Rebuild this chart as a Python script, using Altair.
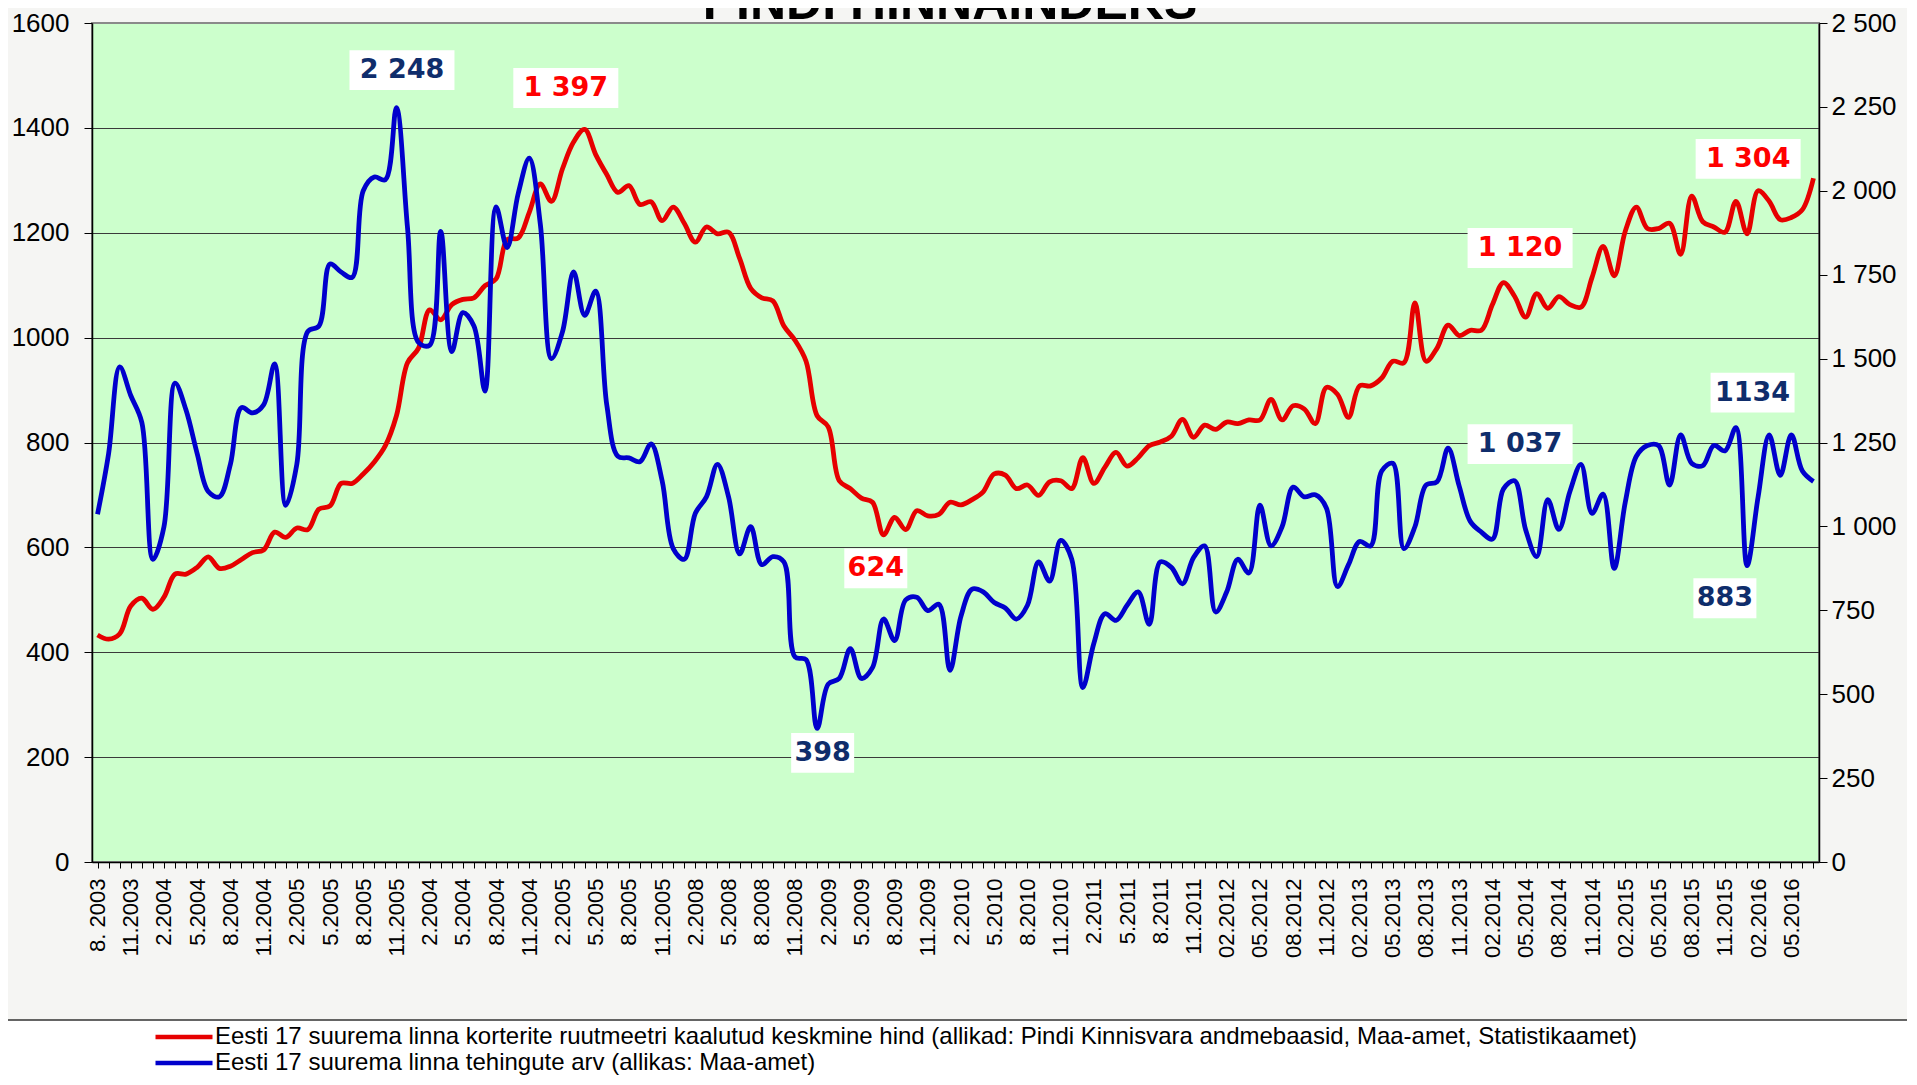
import json
import altair as alt
import pandas as pd

# ---------------- data ----------------
x_labels = [
    "8. 2003", "11.2003", "2.2004", "5.2004", "8.2004", "11.2004", "2.2005", "5.2005",
    "8.2005", "11.2005", "2.2004", "5.2004", "8.2004", "11.2004", "2.2005", "5.2005",
    "8.2005", "11.2005", "2.2008", "5.2008", "8.2008", "11.2008", "2.2009", "5.2009",
    "8.2009", "11.2009", "2.2010", "5.2010", "8.2010", "11.2010", "2.2011", "5.2011",
    "8.2011", "11.2011", "02.2012", "05.2012", "08.2012", "11.2012", "02.2013", "05.2013",
    "08.2013", "11.2013", "02.2014", "05.2014", "08.2014", "11.2014", "02.2015", "05.2015",
    "08.2015", "11.2015", "02.2016", "05.2016",
]

# red series: weighted average price per m2 (left axis)
price = [
    433, 425, 435, 488, 503, 482, 505, 549, 549, 562, 582, 560, 564, 577, 590, 595,
    629, 619, 637, 634, 673, 679, 722, 722, 740, 763, 794, 851, 952, 980, 1053, 1034,
    1063, 1073, 1076, 1099, 1112, 1187, 1190, 1239, 1293, 1260, 1322, 1373, 1397, 1349, 1311, 1277,
    1290, 1254, 1259, 1223, 1249, 1218, 1182, 1211, 1198, 1201, 1151, 1094, 1076, 1070, 1022, 995,
    955, 851, 830, 727, 712, 694, 686, 624, 657, 634, 670, 660, 663, 686, 681, 691,
    706, 740, 738, 712, 719, 699, 725, 727, 712, 771, 722, 753, 781, 755, 771, 794,
    801, 812, 844, 810, 833, 825, 839, 836, 843, 843, 882, 843, 870, 864, 836, 905,
    892, 848, 908, 908, 923, 955, 952, 1066, 955, 980, 1024, 1004, 1014, 1014, 1063, 1105,
    1079, 1039, 1084, 1056, 1078, 1063, 1058, 1115, 1174, 1118, 1203, 1249, 1208, 1208, 1218, 1159,
    1270, 1221, 1211, 1201, 1260, 1198, 1280, 1260, 1225, 1229, 1244, 1304,
]

# blue series: number of transactions (right axis)
deals = [
    1036, 1217, 1475, 1390, 1310, 902, 999, 1427, 1346, 1217, 1104, 1088, 1185, 1354, 1338, 1362,
    1484, 1063, 1185, 1581, 1597, 1782, 1758, 1742, 2000, 2041, 2033, 2248, 1890, 1548, 1540, 1879,
    1521, 1637, 1597, 1403, 1952, 1831, 1992, 2097, 1900, 1500, 1580, 1758, 1629, 1701, 1362, 1209,
    1204, 1193, 1246, 1136, 934, 902, 1039, 1088, 1185, 1088, 918, 999, 886, 910, 894, 611,
    603, 398, 530, 547, 636, 547, 579, 724, 660, 781, 789, 749, 768, 571, 733, 813,
    805, 773, 757, 724, 765, 894, 837, 958, 902, 520, 652, 740, 720, 765, 805, 708,
    894, 878, 829, 907, 942, 745, 805, 902, 861, 1063, 942, 999, 1117, 1088, 1094, 1055,
    821, 886, 955, 942, 1165, 1188, 934, 999, 1123, 1133, 1233, 1120, 1015, 983, 962, 1112,
    1136, 990, 910, 1080, 991, 1104, 1185, 1039, 1096, 875, 1072, 1209, 1241, 1241, 1123, 1273,
    1188, 1181, 1241, 1225, 1294, 883, 1088, 1273, 1152, 1273, 1165, 1134,
]

RED_NAME = ("Eesti 17 suurema linna korterite ruutmeetri kaalutud keskmine hind "
            "(allikad: Pindi Kinnisvara andmebaasid, Maa-amet, Statistikaamet)")
BLUE_NAME = "Eesti 17 suurema linna tehingute arv (allikas: Maa-amet)"
TITLE = "PINDI HINNAINDEKS"

# annotation callouts (text, colour, centre month index, centre in left-axis units)
ann_text = ["2 248", "1 397", "624", "398", "1 120", "1 037", "1 304", "1134", "883"]
ann_color = ["#0f2d6b", "#ff0000", "#ff0000", "#0f2d6b", "#ff0000", "#0f2d6b",
             "#ff0000", "#0f2d6b", "#0f2d6b"]
ann_idx = [27.5, 42.3, 70.3, 65.5, 128.5, 128.5, 149.1, 149.5, 147.0]
ann_val = [1510, 1476, 560, 208, 1171, 797, 1341, 895, 503]

RED = "#e60000"
BLUE = "#0000cc"

# ---------------- frames ----------------
n = len(price)
df_price = pd.DataFrame({"idx": list(range(n)), "v": price, "s": RED_NAME})
df_deals = pd.DataFrame({"idx": list(range(n)), "v": deals, "s": BLUE_NAME})
df_ann = pd.DataFrame({"t": ann_text, "c": ann_color, "idx": ann_idx, "val": ann_val})

FONT = "Liberation Sans"

x_scale = alt.Scale(domain=[-0.5, n - 0.5], nice=False, zero=False)
label_js = json.dumps(x_labels)
x_axis = alt.Axis(
    values=list(range(n)),
    labelExpr=f"datum.value % 3 == 0 ? {label_js}[datum.value / 3] : ''",
    labelAngle=-90, labelFont=FONT, labelFontSize=22, labelColor="black",
    labelPadding=10, labelOverlap=False, labelFlush=False,
    tickSize=6, tickColor="black", domainColor="black", domainWidth=1.5,
    grid=False, title=None,
)

left_scale = alt.Scale(domain=[0, 1600], nice=False, zero=True)
left_axis = alt.Axis(
    values=list(range(0, 1601, 200)), format="d",
    grid=True,
    gridColor={"condition": {"test": "datum.value >= 1600", "value": "#8a8a8a"},
               "value": "#3a3a3a"},
    gridWidth=1.2,
    labelFont=FONT, labelFontSize=26, labelColor="black", labelPadding=15,
    tickSize=8, tickColor="black", domainColor="black", domainWidth=1.5, title=None,
)
right_scale = alt.Scale(domain=[0, 2500], nice=False, zero=True)
right_axis = alt.Axis(
    orient="right", values=list(range(0, 2501, 250)),
    labelExpr="replace(format(datum.value, ','), ',', ' ')",
    grid=False, labelFont=FONT, labelFontSize=26, labelColor="black", labelPadding=4,
    tickSize=8, tickColor="black", domainColor="black", domainWidth=1.5, title=None,
)

legend = alt.Legend(
    orient="none", legendX=80, legendY=1002, title=None, direction="vertical",
    symbolType="M-3,0L3,0", symbolSize=361, symbolStrokeWidth=4.5,
    labelFont=FONT, labelFontSize=24, labelColor="black", labelLimit=2000,
    labelOffset=19, rowPadding=2, padding=0,
)
color_scale = alt.Scale(domain=[RED_NAME, BLUE_NAME], range=[RED, BLUE])

# legend frame (decoration below the plot)
legend_box = alt.Chart(pd.DataFrame({"a": [0]})).mark_rect(
    fill="white", stroke="#333333", strokeWidth=1.5
).encode(x=alt.value(-90), x2=alt.value(1900), y=alt.value(997), y2=alt.value(1120))

title_mark = alt.Chart(pd.DataFrame({"t": [TITLE]})).mark_text(
    font=FONT, fontWeight="bold", fontSize=50, align="center", baseline="alphabetic",
    color="black",
).encode(text="t:N", x=alt.value(858), y=alt.value(-4))

X = alt.X("idx:Q", scale=x_scale, axis=x_axis)

red_line = alt.Chart(df_price).mark_line(
    strokeWidth=4.8, interpolate="catmull-rom"
).encode(
    x=X,
    y=alt.Y("v:Q", scale=left_scale, axis=left_axis),
    color=alt.Color("s:N", scale=color_scale, legend=legend),
)

ann_base = alt.Chart(df_ann).transform_calculate(
    x0="datum.idx - length(datum.t) * 10.5 / 11.07",
    x1="datum.idx + length(datum.t) * 10.5 / 11.07",
    y0="datum.val - 38",
    y1="datum.val + 38",
)
ann_boxes = ann_base.mark_rect(fill="white").encode(
    x=alt.X("x0:Q", scale=x_scale, axis=x_axis), x2="x1:Q",
    y=alt.Y("y0:Q", scale=left_scale, axis=left_axis), y2="y1:Q",
)
ann_texts = alt.Chart(df_ann).mark_text(
    font="DejaVu Sans", fontWeight="bold", fontSize=27, align="center", baseline="middle",
).encode(
    x=X,
    y=alt.Y("val:Q", scale=left_scale, axis=left_axis),
    text="t:N",
    fill=alt.Fill("c:N", scale=None),
)

left_group = alt.layer(legend_box, title_mark, red_line, ann_boxes, ann_texts)

blue_line = alt.Chart(df_deals).mark_line(
    strokeWidth=4.8, interpolate="catmull-rom"
).encode(
    x=X,
    y=alt.Y("v:Q", scale=right_scale, axis=right_axis),
    color=alt.Color("s:N", scale=color_scale, legend=legend),
)

chart = alt.layer(left_group, blue_line).resolve_scale(y="independent").properties(
    width=1727, height=839,
    padding={"left": 84, "top": 15, "right": 88, "bottom": 215},
    autosize=alt.AutoSizeParams(type="none"),
    background="#f5f5f3",
).configure_view(fill="#ccffcc", stroke="#8a8a8a", strokeWidth=2)

chart.save("out.html", embed_options={"renderer": "svg", "actions": False})
